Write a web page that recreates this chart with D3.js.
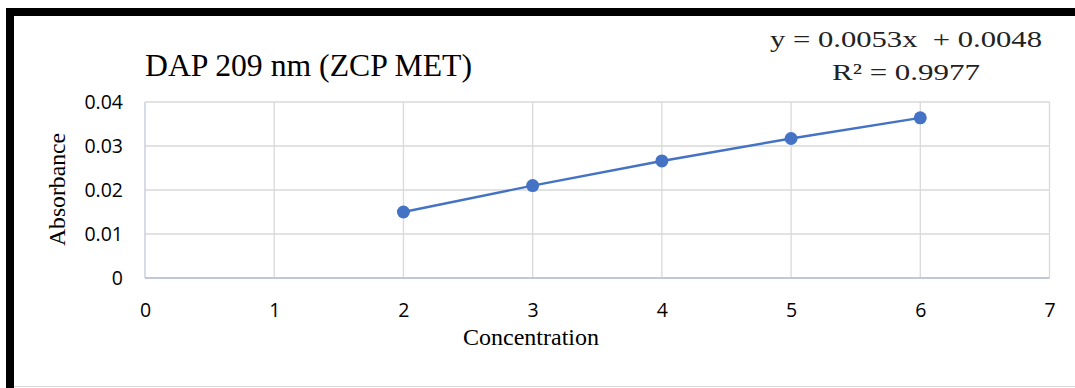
<!DOCTYPE html>
<html><head><meta charset="utf-8">
<script src="https://cdn.jsdelivr.net/npm/d3@7"></script>
<style>body{margin:0;background:#fff}svg{display:block}</style>
</head><body>
<script>
const concentration = [2, 3, 4, 5, 6];
const absorbance = [0.0150, 0.0210, 0.0266, 0.0317, 0.0364];
const xTicks = [0, 1, 2, 3, 4, 5, 6, 7];
const yTicks = [0, 0.01, 0.02, 0.03, 0.04];
const titleText = "DAP 209 nm (ZCP MET)";
const eqText = "y = 0.0053x  + 0.0048";
const r2Text = "R² = 0.9977";

const W = 1075, H = 388;
const svg = d3.select("body").append("svg").attr("width", W).attr("height", H);

// frame
svg.append("rect").attr("x", 6).attr("y", 8).attr("width", W).attr("height", 8).attr("fill", "#000");
svg.append("rect").attr("x", 6).attr("y", 8).attr("width", 8).attr("height", H).attr("fill", "#000");
svg.append("line").attr("x1", 14).attr("x2", W).attr("y1", 386.5).attr("y2", 386.5).attr("stroke", "#d9d9d9");

const x = d3.scaleLinear().domain([0, 7]).range([145, 1049.5]);
const y = d3.scaleLinear().domain([0, 0.04]).range([278, 102]);

// gridlines
svg.append("g").selectAll("line").data(yTicks).join("line")
  .attr("x1", x(0)).attr("x2", x(7)).attr("y1", d => y(d)).attr("y2", d => y(d))
  .attr("stroke", "#d9d9d9").attr("stroke-width", 1.3);
svg.append("g").selectAll("line").data(xTicks).join("line")
  .attr("y1", y(0)).attr("y2", y(0.04)).attr("x1", d => x(d)).attr("x2", d => x(d))
  .attr("stroke", d => d === 0 ? "#bfc8dc" : "#d9d9d9").attr("stroke-width", 1.3);
svg.append("line").attr("x1", x(0)).attr("x2", x(7)).attr("y1", y(0)).attr("y2", y(0))
  .attr("stroke", "#b4bfd6").attr("stroke-width", 1.5);

// axes labels
const tickFont = "Open Sans, sans-serif";
const yAxis = d3.axisLeft(y).tickValues(yTicks).tickSize(0).tickPadding(22)
  .tickFormat(d => d === 0 ? "0" : d3.format(".2f")(d));
const ga = svg.append("g").attr("transform", `translate(${x(0)},0)`).call(yAxis);
ga.select(".domain").remove();
ga.selectAll("text").attr("font-family", tickFont).attr("font-size", 19.5).attr("fill", "#000");

const xAxis = d3.axisBottom(x).tickValues(xTicks).tickSize(0).tickPadding(25).tickFormat(d3.format("d"));
const gx = svg.append("g").attr("transform", `translate(0,${y(0)})`).call(xAxis);
gx.select(".domain").remove();
gx.selectAll("text").attr("font-family", tickFont).attr("font-size", 19.5).attr("fill", "#000");

// line & points
const pts = concentration.map((c, i) => [c, absorbance[i]]);
svg.append("path").datum(pts)
  .attr("d", d3.line().x(d => x(d[0])).y(d => y(d[1])))
  .attr("fill", "none").attr("stroke", "#4472C4").attr("stroke-width", 2.4);
svg.append("g").selectAll("circle").data(pts).join("circle")
  .attr("cx", d => x(d[0])).attr("cy", d => y(d[1])).attr("r", 6.5)
  .attr("fill", "#4472C4");

// texts
const serif = "Liberation Serif, Times New Roman, serif";
svg.append("text").attr("x", 145).attr("y", 76).attr("font-family", serif).attr("font-size", 31)
  .attr("textLength", 327).attr("lengthAdjust", "spacingAndGlyphs")
  .attr("fill", "#000").text(titleText);
svg.append("text").attr("x", 770).attr("y", 47).attr("font-family", serif)
  .attr("font-size", 23).attr("fill", "#222").style("white-space", "pre")
  .attr("textLength", 272).attr("lengthAdjust", "spacingAndGlyphs").text(eqText);
svg.append("text").attr("x", 832).attr("y", 80).attr("font-family", serif)
  .attr("font-size", 23).attr("fill", "#222")
  .attr("textLength", 148).attr("lengthAdjust", "spacingAndGlyphs").text(r2Text);
svg.append("text").attr("transform", "translate(65,246) rotate(-90)")
  .attr("font-family", serif).attr("font-size", 23).attr("fill", "#000")
  .attr("textLength", 113).attr("lengthAdjust", "spacingAndGlyphs").text("Absorbance");
svg.append("text").attr("x", 463).attr("y", 345)
  .attr("font-family", serif).attr("font-size", 23).attr("fill", "#000")
  .attr("textLength", 136).attr("lengthAdjust", "spacingAndGlyphs").text("Concentration");
</script>
</body></html>
